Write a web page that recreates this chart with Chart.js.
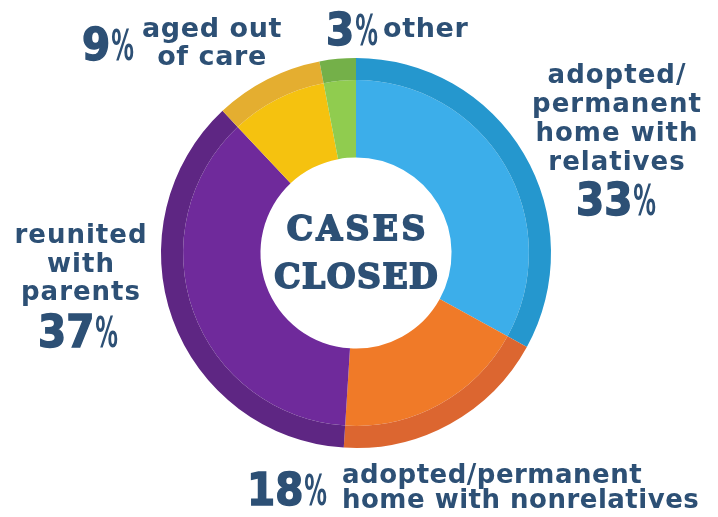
<!DOCTYPE html>
<html>
<head>
<meta charset="utf-8">
<script src="https://cdn.jsdelivr.net/npm/chart.js@4.4.1/dist/chart.umd.min.js"></script>
<style>
  html, body { margin: 0; padding: 0; background: #fff; }
  #wrap { width: 718px; height: 517px; position: relative; }
</style>
</head>
<body>
<div id="wrap"><canvas id="casesChart" width="718" height="517"></canvas></div>
<script>
// data
const categories = ['adopted/permanent home with relatives', 'adopted/permanent home with nonrelatives', 'reunited with parents', 'aged out of care', 'other'];
const shares = [33, 18, 37, 9, 3];
const lightColors = ['#3caeea', '#f07a28', '#6f2a9b', '#f5c20f', '#90cc4f'];
const darkColors = ['#2597ce', '#dc6630', '#5e2683', '#e4ae30', '#74b049'];
const centerTitle = ['CASES', 'CLOSED'];

const navy = '#2d5075';

// label layout: text lines + where the percentage sits
const labelSpots = [
  { lines: ['adopted/', 'permanent', 'home with', 'relatives'], x: 617, y: 83, lh: 29, size: 26, ls: 1, pct: { x: 616, y: 215 } },
  { lines: ['adopted/permanent', 'home with nonrelatives'], x: 342, y: 483, lh: 25, size: 26, ls: 0.5, align: 'left', pct: { x: 287, y: 505 } },
  { lines: ['reunited', 'with', 'parents'], x: 81, y: 243, lh: 28.5, size: 26, ls: 1, pct: { x: 78, y: 347 } },
  { lines: ['aged out', 'of care'], x: 212, y: 37, lh: 28, size: 27, ls: 0.6, pct: { x: 108, y: 60 } },
  { lines: ['other'], x: 383, y: 37, lh: 28, size: 27, ls: 0.6, align: 'left', pct: { x: 352, y: 45 } }
];

// big number + narrow percent sign, centred on x
function drawPct(ctx, val, x, y) {
  const bigFont = 'bold 45px "DejaVu Sans Condensed", "DejaVu Sans", sans-serif';
  const signFont = 'bold 42px "DejaVu Sans Condensed", "DejaVu Sans", sans-serif';
  const num = String(val);
  ctx.font = bigFont;
  const nw = ctx.measureText(num).width;
  ctx.font = signFont;
  const pw = ctx.measureText('%').width * 0.6;
  const left = x - (nw + pw + 1) / 2;
  ctx.textAlign = 'left';
  ctx.lineWidth = 1.4;
  ctx.font = bigFont;
  ctx.fillText(num, left, y);
  ctx.strokeText(num, left, y);
  ctx.save();
  ctx.translate(left + nw + 1, y);
  ctx.scale(0.6, 1);
  ctx.font = signFont;
  ctx.fillText('%', 0, 0);
  ctx.restore();
}

const textPlugin = {
  id: 'caseLabels',
  afterDraw(chart) {
    const ctx = chart.ctx;
    ctx.save();
    ctx.fillStyle = navy;
    ctx.strokeStyle = navy;
    ctx.textBaseline = 'alphabetic';

    labelSpots.forEach((s, i) => {
      ctx.font = 'bold ' + s.size + 'px "DejaVu Sans", sans-serif';
      ctx.letterSpacing = s.ls + 'px';
      ctx.textAlign = s.align || 'center';
      s.lines.forEach((ln, k) => ctx.fillText(ln, s.x, s.y + k * s.lh));
      ctx.letterSpacing = '0px';
      drawPct(ctx, shares[i], s.pct.x, s.pct.y);
    });

    // centre title
    const m = chart.getDatasetMeta(0).data[0];
    ctx.font = 'bold 33px "DejaVu Serif", serif';
    ctx.textAlign = 'center';
    ctx.lineWidth = 1.8;
    const spacing = [3.5, 1.5];
    [240, 288].forEach((yy, k) => {
      ctx.letterSpacing = spacing[k] + 'px';
      const cx = m.x + spacing[k] / 2;
      ctx.fillText(centerTitle[k], cx, yy);
      ctx.strokeText(centerTitle[k], cx, yy);
    });
    ctx.restore();
  }
};

new Chart(document.getElementById('casesChart'), {
  type: 'doughnut',
  data: {
    labels: categories,
    datasets: [
      { data: shares, backgroundColor: darkColors, borderWidth: 0, weight: 22 },
      { data: shares, backgroundColor: lightColors, borderWidth: 0, weight: 77 }
    ]
  },
  options: {
    responsive: false,
    animation: false,
    cutout: '49%',
    layout: { padding: { left: 161, right: 167, top: 58, bottom: 69 } },
    plugins: {
      legend: { display: false },
      tooltip: { enabled: false }
    }
  },
  plugins: [textPlugin]
});
</script>
</body>
</html>
